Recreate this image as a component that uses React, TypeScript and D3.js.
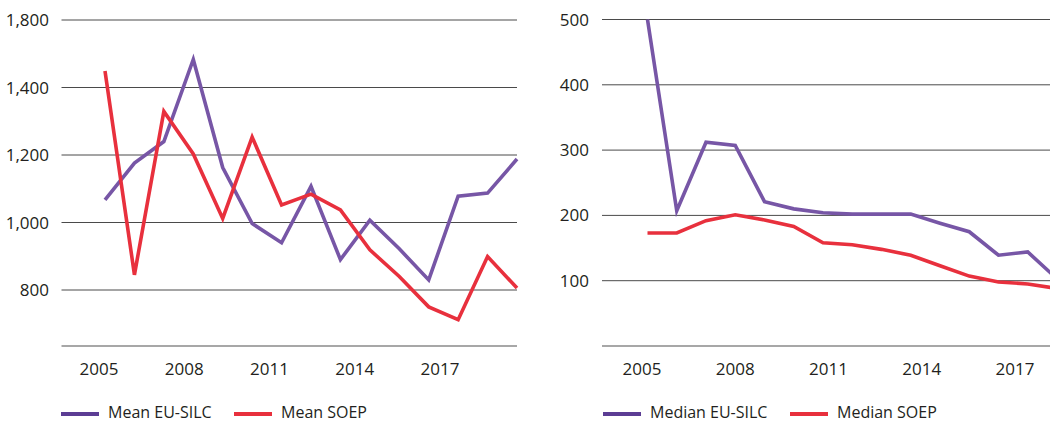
import React from "react";
import * as d3 from "d3";

const years = [2005, 2006, 2007, 2008, 2009, 2010, 2011, 2012, 2013, 2014, 2015, 2016, 2017, 2018, 2019];
const meanEuSilc = [1067, 1176, 1240, 1483, 1163, 997, 940, 1107, 890, 1007, 922, 830, 1078, 1087, 1188];
const meanSoep = [1449, 845, 1329, 1203, 1012, 1253, 1052, 1084, 1037, 919, 840, 750, 712, 899, 806];
const medianEuSilc = [500, 207, 312, 307, 221, 210, 204, 202, 202, 202, 188, 175, 139, 144, 103];
const medianSoep = [173, 173, 192, 201, 193, 183, 158, 155, 148, 139, 123, 107, 98, 95, 88];

const xTickYears = [2005, 2008, 2011, 2014, 2017];
const leftYTicks = [800, 1000, 1200, 1400, 1600];
const leftYTickLabels = ["800", "1,000", "1,200", "1,400", "1,800"];
const rightYTicks = [100, 200, 300, 400, 500];
const rightYTickLabels = ["100", "200", "300", "400", "500"];

const leftLegend = ["Mean EU-SILC", "Mean SOEP"];
const rightLegend = ["Median EU-SILC", "Median SOEP"];

const PURPLE = "#7756a6";
const PURPLE_LEGEND = "#5c3d94";
const RED = "#e8303d";
const TEXT = "#231f20";
const FONT = "'Open Sans', sans-serif";

type PanelProps = {
  gridX0: number;
  gridX1: number;
  baseY: number;
  yScale: d3.ScaleLinear<number, number>;
  xScale: d3.ScaleLinear<number, number>;
  xLabelScale: d3.ScaleLinear<number, number>;
  yTicks: number[];
  yLabels: string[];
  yLabelX: number;
  series: { values: number[]; color: string }[];
};

function Panel(p: PanelProps) {
  const line = (vals: number[]) =>
    d3
      .line<number>()
      .x((_, i) => p.xScale(years[i]))
      .y((v) => p.yScale(v))(vals) || "";
  return (
    <g>
      {p.yTicks.map((t, i) => (
        <g key={t}>
          <line x1={p.gridX0} x2={p.gridX1} y1={p.yScale(t)} y2={p.yScale(t)} stroke="#4a4a4a" strokeWidth={1} />
          <text
            x={p.yLabelX}
            y={p.yScale(t) + 1.5}
            textAnchor="end"
            dominantBaseline="middle"
            fontSize={17}
            fontFamily={FONT}
            fill={TEXT}
          >
            {p.yLabels[i]}
          </text>
        </g>
      ))}
      <line x1={p.gridX0} x2={p.gridX1} y1={p.baseY} y2={p.baseY} stroke="#8a8a8a" strokeWidth={1.5} />
      {xTickYears.map((yr) => (
        <text
          key={yr}
          x={p.xLabelScale(yr)}
          y={375}
          textAnchor="middle"
          fontSize={17}
          fontFamily={FONT}
          fill={TEXT}
        >
          {yr}
        </text>
      ))}
      {p.series.map((s, i) => (
        <path key={i} d={line(s.values)} fill="none" stroke={s.color} strokeWidth={3.6} strokeLinejoin="miter" />
      ))}
    </g>
  );
}

function Legend({ x, labels, gap }: { x: number; labels: string[]; gap: number }) {
  const colors = [PURPLE_LEGEND, RED];
  let cx = x;
  const items: React.ReactNode[] = [];
  labels.forEach((lab, i) => {
    items.push(
      <g key={lab}>
        <line x1={cx} x2={cx + 38} y1={414} y2={414} stroke={colors[i]} strokeWidth={4} />
        <text x={cx + 47} y={414} dominantBaseline="middle" fontSize={16} fontFamily={FONT} fill={TEXT}>
          {lab}
        </text>
      </g>
    );
    cx += gap;
  });
  return <g>{items}</g>;
}

export default function App() {
  const leftY = d3.scaleLinear().domain([800, 1600]).range([290, 20]);
  const leftX = d3.scaleLinear().domain([2005, 2019]).range([105, 517]);
  const leftXLabel = d3.scaleLinear().domain([2005, 2017]).range([99, 440]);

  const rightY = d3.scaleLinear().domain([0, 500]).range([346, 19.5]);
  const rightX = d3.scaleLinear().domain([2005, 2019]).range([647.5, 1057]);
  const rightXLabel = d3.scaleLinear().domain([2005, 2017]).range([642, 1015]);

  return (
    <svg
      width={1050}
      height={423}
      style={{ position: "absolute", left: 0, top: 0, background: "#fff" }}
    >
      <rect width={1050} height={423} fill="#fff" />
      <Panel
        gridX0={61.5}
        gridX1={517}
        baseY={346}
        yScale={leftY}
        xScale={leftX}
        xLabelScale={leftXLabel}
        yTicks={leftYTicks}
        yLabels={leftYTickLabels}
        yLabelX={49}
        series={[
          { values: meanEuSilc, color: PURPLE },
          { values: meanSoep, color: RED },
        ]}
      />
      <Panel
        gridX0={602}
        gridX1={1050}
        baseY={346}
        yScale={rightY}
        xScale={rightX}
        xLabelScale={rightXLabel}
        yTicks={rightYTicks}
        yLabels={rightYTickLabels}
        yLabelX={589}
        series={[
          { values: medianEuSilc, color: PURPLE },
          { values: medianSoep, color: RED },
        ]}
      />
      <Legend x={61} labels={leftLegend} gap={173} />
      <Legend x={603} labels={rightLegend} gap={187} />
    </svg>
  );
}
